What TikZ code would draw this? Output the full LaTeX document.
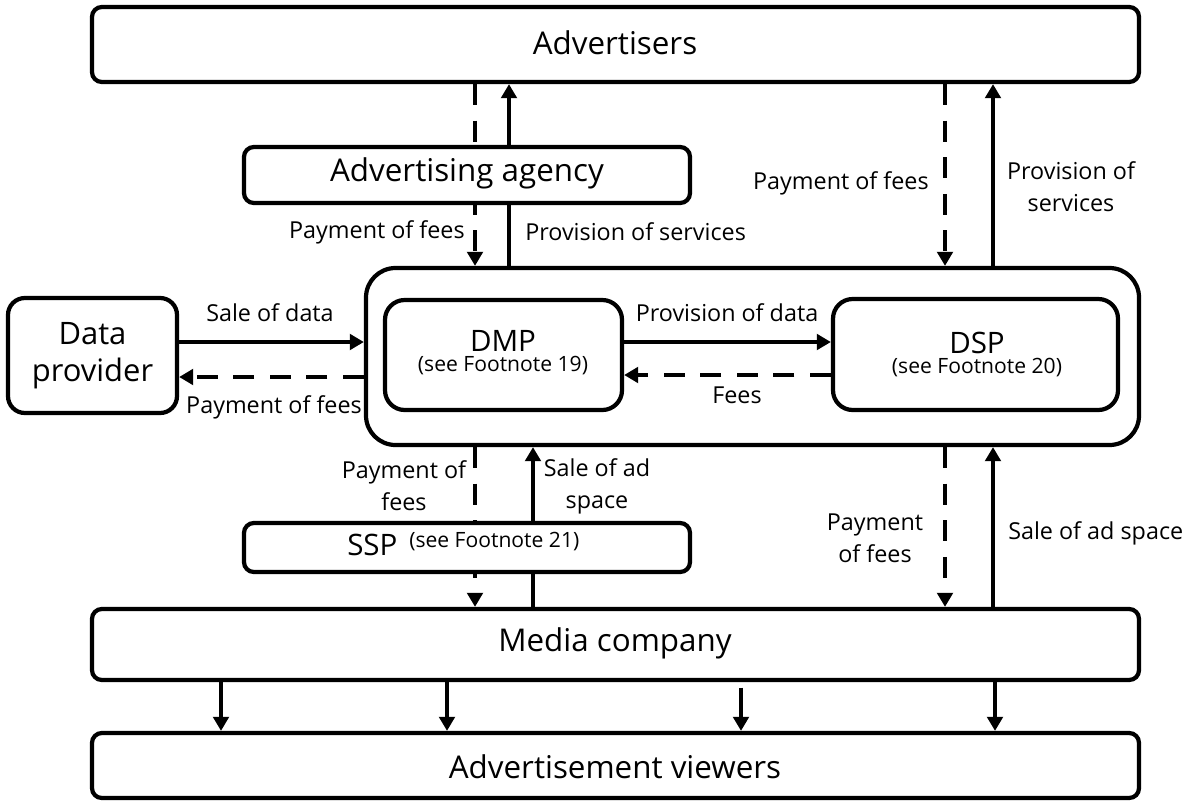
\documentclass[tikz,border=0pt]{standalone}
\usepackage{fontspec}
\setmainfont{Open Sans}
\usetikzlibrary{arrows.meta,backgrounds}

\tikzset{
  box/.style={draw, line width=3pt, rounded corners=7pt, fill=white, inner sep=0pt, align=center},
  flow/.style={line width=2.6pt, -{Triangle[length=10pt,width=11pt]}},
  fee/.style={flow, dash pattern=on 15pt off 11pt},
  lbl/.style={font=\fontsize{16.6}{22.7}\selectfont, align=center, inner sep=0pt},
  big/.style={font=\fontsize{22.3}{28}\selectfont},
  head/.style={font=\fontsize{15}{14.5}\selectfont, align=center, inner sep=0pt},
  note/.style={font=\fontsize{15}{15}\selectfont, inner sep=0pt},
}

\begin{document}
\begin{tikzpicture}[x=0.025cm, y=-0.025cm]
\useasboundingbox (0,0) rectangle (1188,802);

% boxes
\node[box, big, minimum width=1047*0.025cm, minimum height=75*0.025cm] (adv) at (615.5,44.5) {};
\node[big, inner sep=0pt] (advtxt) at (615,43) {Advertisers};
\node[box, big, minimum width=446*0.025cm, minimum height=56*0.025cm] (agency) at (467,175) {};
\node[big, inner sep=0pt] (agencytxt) at (467,173) {Advertising agency};
\node[box, rounded corners=21pt, minimum width=773*0.025cm, minimum height=177*0.025cm] (platform) at (752.5,356.5) {};
\node[box, font=\fontsize{22}{26.5}\selectfont, rounded corners=12pt, minimum width=169*0.025cm, minimum height=115*0.025cm] (provider) at (92.5,355.5) {Data\\provider};
\node[box, rounded corners=14pt, minimum width=237*0.025cm, minimum height=110*0.025cm] (dmp) at (503.5,355) {};
\node[box, rounded corners=14pt, minimum width=285*0.025cm, minimum height=111*0.025cm] (dsp) at (975.5,354.5) {};
\node[box, minimum width=446*0.025cm, minimum height=49*0.025cm] (ssp) at (467,547.5) {};
\node[box, minimum width=1047*0.025cm, minimum height=71*0.025cm] (media) at (615.5,644.5) {};
\node[big, inner sep=0pt] (mediatxt) at (615,643) {Media company};
\node[box, minimum width=1047*0.025cm, minimum height=65*0.025cm] (viewers) at (615.5,765.5) {};
\node[big, inner sep=0pt] (viewerstxt) at (615,767) {Advertisement viewers};

% box texts
\node[head] (dmptxt) at (503,352.5) {{\fontsize{21}{21}\selectfont DMP}\\(see Footnote 19)};
\node[head] (dsptxt) at (977,354.5) {{\fontsize{21}{21}\selectfont DSP}\\(see Footnote 20)};
\node[font=\fontsize{21}{21}\selectfont, inner sep=0pt, anchor=base west] (ssptxt) at (347,555) {SSP};
\node[note, anchor=base west] (sspnote) at (409,547) {(see Footnote 21)};

% x positions of the vertical flows
\coordinate (xa) at (475,0);
\coordinate (xb) at (509,0);
\coordinate (xc) at (533,0);
\coordinate (xd) at (945,0);
\coordinate (xe) at (993,0);

\begin{scope}[on background layer]
% advertisers / agency / platform
\draw[fee] (adv.south -| xa) -- (platform.north -| xa);
\draw[flow] (platform.north -| xb) -- (adv.south -| xb);
\draw[fee] (adv.south -| xd) -- (platform.north -| xd);
\draw[flow] (platform.north -| xe) -- (adv.south -| xe);
% platform / ssp / media
\draw[fee] (platform.south -| xa) -- (media.north -| xa);
\draw[flow] (media.north -| xc) -- (platform.south -| xc);
\draw[fee] (platform.south -| xd) -- (media.north -| xd);
\draw[flow] (media.north -| xe) -- (platform.south -| xe);
\end{scope}

% data flows
\draw[flow] ([yshift=13.5*0.025cm]provider.east) -- ([yshift=13.5*0.025cm]provider.east -| platform.west);
\draw[fee] ([yshift=-21.5*0.025cm]provider.east -| platform.west) -- ([yshift=-21.5*0.025cm]provider.east);
\draw[flow] ([yshift=13*0.025cm]dmp.east) -- ([yshift=13*0.025cm]dmp.east -| dsp.west);
\draw[fee] ([yshift=-20*0.025cm]dmp.east -| dsp.west) -- ([yshift=-20*0.025cm]dmp.east);

% media to viewers
\foreach \x/\gap [count=\i] in {221/0,447/0,741/4,995/0}{
  \coordinate (v\i) at (\x,0);
  \draw[flow, shorten <=\gap pt] (media.south -| v\i) -- (viewers.north -| v\i);
}

% labels
\node[lbl, anchor=east] (l1) at (465,232) {Payment of fees};
\node[lbl, anchor=west] (l2) at (525,232) {Provision of services};
\node[lbl, anchor=east] (l3) at (929,183) {Payment of fees};
\node[lbl] (l4) at (1071,187) {Provision of\\services};
\node[lbl] (l5) at (270,313) {Sale of data};
\node[lbl] (l6) at (274,407) {Payment of fees};
\node[lbl] (l7) at (727,313) {Provision of data};
\node[lbl] (l8) at (737,395) {Fees};
\node[lbl] (l9) at (404,486) {Payment of\\fees};
\node[lbl] (l10) at (597,486) {Sale of ad\\space};
\node[lbl] (l11) at (875,538) {Payment\\of fees};
\node[lbl, anchor=west] (l12) at (1008,533) {Sale of ad space};
\end{tikzpicture}
\end{document}
